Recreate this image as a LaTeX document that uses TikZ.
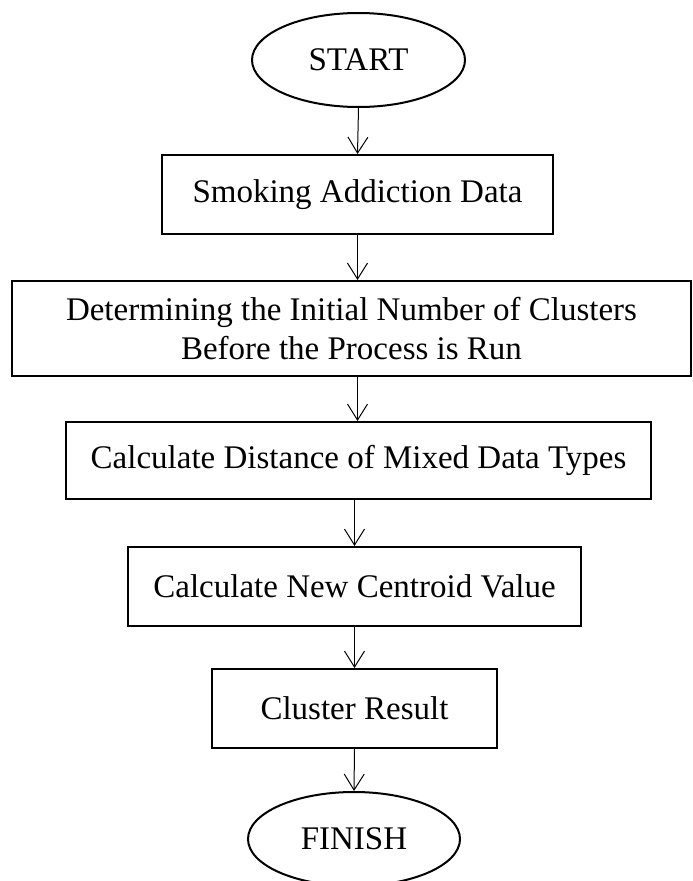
\documentclass[tikz,border=0pt]{standalone}
\usepackage{fontspec}
\setmainfont{Liberation Serif}
\usetikzlibrary{shapes.geometric,arrows.meta}
\begin{document}
\begin{tikzpicture}[x=1pt,y=-1pt,
  term/.style={draw,ellipse,line width=2pt,minimum width=213pt,minimum height=94pt,
    inner sep=0pt,font=\fontsize{33}{39}\selectfont},
  stepbox/.style={draw,rectangle,line width=2pt,inner sep=0pt,align=center,
    font=\fontsize{33}{39}\selectfont},
  flow/.style={line width=1pt,-{Straight Barb[length=16pt,width=20pt]}}]
\useasboundingbox (0,0) rectangle (693,881);
\clip (0,0) rectangle (693,881);
\node[term] (start) at (358.5,60){START};
\node[stepbox,minimum width=391pt,minimum height=79pt] (data) at (357.5,194.5){Smoking Addiction Data};
\node[stepbox,minimum width=679pt,minimum height=95pt] (init) at (351.5,328.5){Determining the Initial Number of Clusters\\Before the Process is Run};
\node[stepbox,minimum width=585pt,minimum height=77pt] (dist) at (358.5,460.5){Calculate Distance of Mixed Data Types};
\node[stepbox,minimum width=453pt,minimum height=79pt] (cent) at (354.5,586.5){Calculate New Centroid Value};
\node[stepbox,minimum width=285pt,minimum height=79pt] (result) at (354.5,708.5){Cluster Result};
\node[term,minimum width=212pt] (finish) at (354,839){FINISH};
\draw[flow] (start.south) -- (data.north);
\draw[flow] (data.south) -- (init.north -| data.south);
\draw[flow] (init.south -| data.south) -- (dist.north -| data.south);
\draw[flow] (dist.south -| cent.north) -- (cent.north);
\draw[flow] (cent.south) -- (result.north);
\draw[flow] (result.south) -- (finish.north);
\end{tikzpicture}
\end{document}
